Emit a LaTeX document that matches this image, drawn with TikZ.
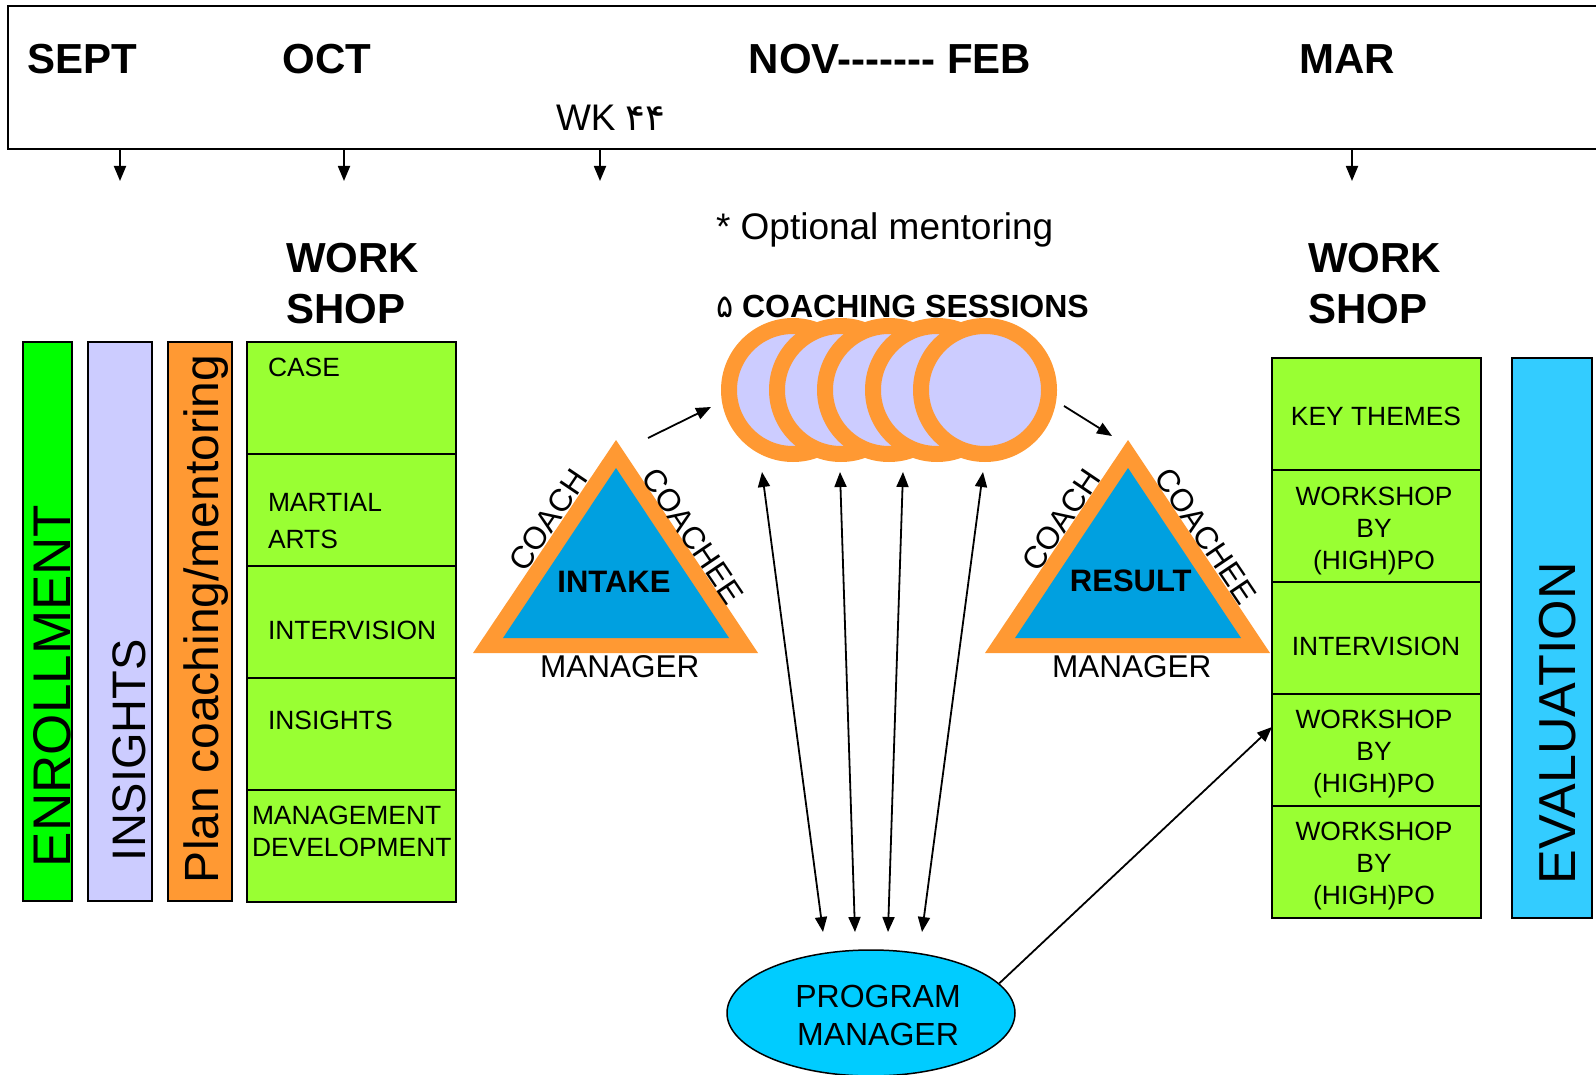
\documentclass[tikz,border=0pt]{standalone}
\usepackage{fontspec}
\setmainfont{Liberation Sans}
\newfontfamily\arabicfont[Script=Arabic]{DejaVu Sans}
\TeXXeTstate=1
\usetikzlibrary{arrows.meta,shapes.geometric}

\definecolor{enrollgreen}{RGB}{0,255,0}
\definecolor{lavender}{RGB}{204,204,255}
\definecolor{sessorange}{RGB}{255,153,51}
\definecolor{cellgreen}{RGB}{153,255,51}
\definecolor{triblue}{RGB}{0,160,224}
\definecolor{pmcyan}{RGB}{0,204,255}
\definecolor{evalblue}{RGB}{51,204,255}

\newcommand\pxfont[2]{\fontsize{#1}{#2}\selectfont}

\begin{document}
\begin{tikzpicture}[x=1pt,y=-1pt,
  frame/.style={draw=black,line width=2pt,inner sep=0pt,outer sep=0pt},
  bar/.style={frame,anchor=north west,minimum height=559pt},
  cell/.style={frame,fill=cellgreen,anchor=north west,minimum width=209pt,minimum height=112pt},
  lbl/.style={inner sep=0pt,outer sep=0pt},
  month/.style={lbl,anchor=base,font=\pxfont{42}{50}\bfseries},
  head/.style={lbl,anchor=base west,font=\pxfont{42}{50}\bfseries},
  celltxt/.style={lbl,font=\pxfont{26.4}{32}},
  vtxt/.style={lbl,rotate=90,anchor=base west},
  side/.style={lbl,font=\pxfont{31.5}{36}},
  sess/.style={circle,draw=sessorange,line width=16pt,fill=lavender,minimum size=128pt,inner sep=0pt},
  arr/.style={line width=1.8pt,-{Triangle[length=15pt,width=12pt]}},
  darr/.style={line width=1.8pt,{Triangle[length=15pt,width=12pt]}-{Triangle[length=15pt,width=12pt]}}
]
\useasboundingbox (0,0) rectangle (1596,1075);

% ---- timeline band ----
\node[frame,anchor=north west,minimum width=1600pt,minimum height=143pt] (topbox) at (8,6) {};
\node[month] (sept) at (82.5,74) {SEPT};
\node[month] (oct) at (327,74) {OCT};
\node[month] (novfeb) at (890,74) {NOV-{}-{}-{}-{}-{}-{}- FEB};
\node[month] (mar) at (1347,74) {MAR};
\node[lbl,anchor=base west,font=\pxfont{37}{44}] (wk) at (556,131) {WK {\arabicfont\beginR ۴۴\endR}};

\coordinate (ta1) at (120,181);
\coordinate (ta2) at (344,181);
\coordinate (ta3) at (600,181);
\coordinate (ta4) at (1352,181);
\foreach \t in {ta1,ta2,ta3,ta4}
  \draw[arr] (topbox.south -| \t) -- (\t);

% ---- left columns ----
\node[bar,fill=enrollgreen,minimum width=49pt] (enroll) at (23,342) {};
\node[bar,fill=lavender,minimum width=64pt] (insbar) at (88,342) {};
\node[bar,fill=sessorange,minimum width=64pt] (planbar) at (168,342) {};
\node[vtxt,font=\pxfont{53}{60}] (enrolltxt) at (70,867) {ENROLLMENT};
\node[vtxt,font=\pxfont{47}{55}] (instxt) at (145,861) {INSIGHTS};
\node[vtxt,font=\pxfont{48}{55}] (plantxt) at (218,883) {Plan coaching/mentoring};

% ---- left workshop ----
\node[head] (work1) at (286,273) {WORK};
\node[head] (shop1) at (286,324) {SHOP};
\foreach \i in {1,...,5}
  \node[cell] (c\i) at (247,{342+112*(\i-1)}) {};
\node[celltxt,anchor=base west] (t1) at (268,377) {CASE};
\node[celltxt,anchor=north west,align=left,font=\pxfont{26.4}{37}] (t2) at (268,493) {MARTIAL\\ARTS};
\node[celltxt,anchor=base west] (t3) at (268,639) {INTERVISION};
\node[celltxt,anchor=base west] (t4) at (268,729) {INSIGHTS};
\node[celltxt,anchor=north west,align=left] (t5) at (252,806) {MANAGEMENT\\DEVELOPMENT};

% ---- coaching sessions ----
\node[lbl,anchor=base west,font=\pxfont{37}{44}] (optional) at (716,240) {* Optional mentoring};
\node[lbl,anchor=base west,font=\pxfont{32}{38}\bfseries] (sesstitle) at (716,318) {{\arabicfont\mdseries ۵} COACHING SESSIONS};
\foreach \i/\x in {1/793,2/841,3/889,4/937,5/985}
  \node[sess] (s\i) at (\x,390) {};

% ---- intake triangle ----
\fill[sessorange] (473,653) -- (616,440) -- (758,653) -- cycle;
\fill[triblue] (503,638) -- (616,468) -- (729,638) -- cycle;
\node[lbl,anchor=base,font=\pxfont{31}{36}\bfseries] (intake) at (614,592) {INTAKE};
\node[side,anchor=base] (intakemgr) at (619.7,677) {MANAGER};
\node[side,rotate=56] (intakecoach) at (548,520) {COACH};
\node[side,rotate=-56] (intakecoachee) at (693,536) {COACHEE};

% ---- result triangle ----
\fill[sessorange] (985,653) -- (1128,440) -- (1270,653) -- cycle;
\fill[triblue] (1015,638) -- (1128,468) -- (1241,638) -- cycle;
\node[lbl,anchor=base,font=\pxfont{31}{36}\bfseries] (result) at (1130.8,591) {RESULT};
\node[side,anchor=base] (resultmgr) at (1131.7,677) {MANAGER};
\node[side,rotate=56] (resultcoach) at (1061,520) {COACH};
\node[side,rotate=-56] (resultcoachee) at (1206,536) {COACHEE};

% ---- right workshop ----
\node[head] (work2) at (1308,273) {WORK};
\node[head] (shop2) at (1308,324) {SHOP};
\foreach \i in {1,...,5}
  \node[cell] (r\i) at (1272,{358+112*(\i-1)}) {};
\node[celltxt,anchor=north] (u1) at (1376,407) {KEY THEMES};
\node[celltxt,anchor=north,align=center] (u2) at (1374,487) {WORKSHOP\\BY\\(HIGH)PO};
\node[celltxt,anchor=north] (u3) at (1376,637) {INTERVISION};
\node[celltxt,anchor=north,align=center] (u4) at (1374,710) {WORKSHOP\\BY\\(HIGH)PO};
\node[celltxt,anchor=north,align=center] (u5) at (1374,822) {WORKSHOP\\BY\\(HIGH)PO};
\node[bar,fill=evalblue,minimum width=80pt,minimum height=560pt] (evalbar) at (1512,358) {};
\node[vtxt,font=\pxfont{52}{60}] (evaltxt) at (1575,884) {EVALUATION};

% ---- program manager ----
\node[ellipse,draw=black,line width=1.5pt,fill=pmcyan,minimum width=288pt,minimum height=126pt,
      inner sep=0pt] (pm) at (871,1013) {};
\node[lbl,align=center,font=\pxfont{32}{38}] (pmtext) at (878,1015) {PROGRAM\\MANAGER};

% ---- connectors ----
\coordinate (inA) at (648,438);
\coordinate (inB) at (711,407);
\coordinate (outA) at (1064,406);
\coordinate (outB) at (1112,436);
\draw[arr] (inA) -- (inB);
\draw[arr] (outA) -- (outB);

\coordinate (d1a) at (762,472); \coordinate (d1b) at (823,932);
\coordinate (d2a) at (840,472); \coordinate (d2b) at (855,932);
\coordinate (d3a) at (903,472); \coordinate (d3b) at (888,932);
\coordinate (d4a) at (983,472); \coordinate (d4b) at (922,932);
\foreach \k in {1,2,3,4}
  \draw[darr] (d\k a) -- (d\k b);

\coordinate (pmT) at (1272,727);
\draw[arr] (pm.13.5) -- (pmT);
\end{tikzpicture}
\end{document}
